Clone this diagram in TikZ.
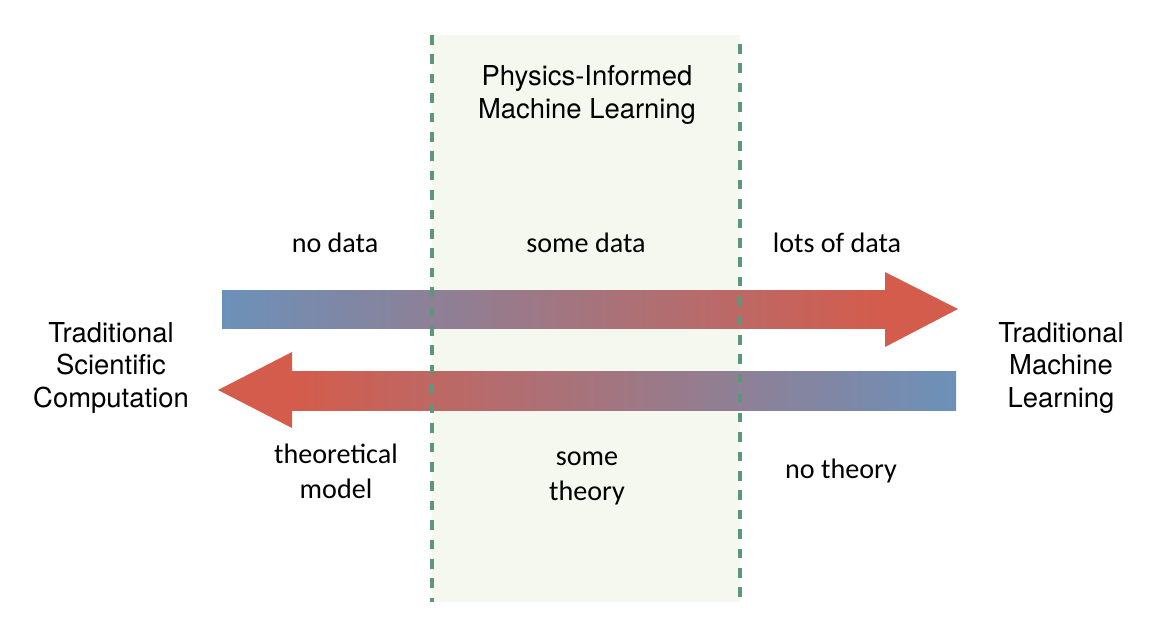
\documentclass[tikz,border=0pt]{standalone}
\usepackage{fontspec}
\setmainfont{TeX Gyre Heros}
\newfontfamily\calibrifont{Carlito}
\usepackage{xcolor}
\definecolor{colorTheory}{RGB}{212,92,76}
\definecolor{colorData}{RGB}{108,145,185}
\definecolor{colorBand}{RGB}{245,248,238}
\definecolor{colorBorder}{RGB}{94,150,122}
\usetikzlibrary{positioning}

\begin{document}
\begin{tikzpicture}[x=0.025cm, y=-0.025cm,
  bigLabel/.style={align=center, inner sep=0pt, font=\fontsize{19.5pt}{22.8pt}\selectfont},
  smallLabel/.style={align=center, inner sep=0pt, font=\calibrifont\fontsize{20pt}{24.2pt}\selectfont},
  bandBorder/.style={colorBorder, line width=3.5pt, dash pattern=on 0.24cm off 0.245cm}]
\useasboundingbox (0,0) rectangle (1160,632);
% middle band
\fill[colorBand] (432,35) rectangle (740,602);
% data arrow, left to right
\shade[left color=colorData, right color=colorTheory] (222,290) rectangle (886,328);
\fill[colorTheory] (885,272) -- (958,309) -- (885,347) -- cycle;
% theory arrow, right to left
\shade[left color=colorTheory, right color=colorData] (291,371) rectangle (956,410);
\fill[colorTheory] (292,352) -- (218,390) -- (292,428) -- cycle;
\draw[bandBorder] (432,35) -- (432,602);
\draw[bandBorder] (740,44) -- (740,602);
% labels (base = last line)
\node[bigLabel, anchor=base] (piml) at (587,118) {Physics-Informed\\Machine Learning};
\node[bigLabel, anchor=base] (tsc) at (111,407) {Traditional\\Scientific\\Computation};
\node[bigLabel, anchor=base] (tml) at (1061,407) {Traditional\\Machine\\Learning};
\node[smallLabel, anchor=base] (noData) at (335,252) {no data};
\node[smallLabel, anchor=base] (someData) at (586,252) {some data};
\node[smallLabel, anchor=base] (lotsData) at (837,252) {lots of data};
\node[smallLabel, anchor=base] (theoModel) at (336,498) {theoretical\\model};
\node[smallLabel, anchor=base] (someTheory) at (587,500) {some\\theory};
\node[smallLabel, anchor=base] (noTheory) at (841,478) {no theory};
\end{tikzpicture}
\end{document}
